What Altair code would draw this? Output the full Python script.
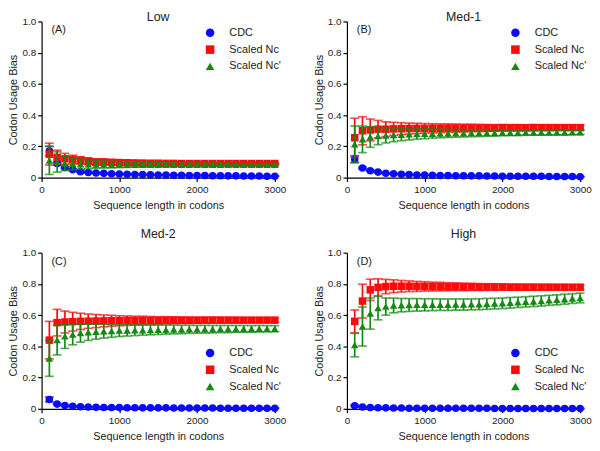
import altair as alt
import pandas as pd

lengths = [100, 200, 300, 400, 500, 600, 700, 800, 900, 1000,
           1100, 1200, 1300, 1400, 1500, 1600, 1700, 1800, 1900, 2000,
           2100, 2200, 2300, 2400, 2500, 2600, 2700, 2800, 2900, 3000]

series_names = ["CDC", "Scaled Nc", "Scaled Nc'"]
series_colors = ["#0a0aff", "#ff0a0a", "#138a13"]
series_shapes = ["circle", "square", "triangle-up"]

# ---- Panel A: Low ----
low_cdc = [0.17, 0.09, 0.065, 0.05, 0.038, 0.033, 0.03, 0.027, 0.025, 0.023, 0.021, 0.02, 0.019, 0.018, 0.017,
           0.016, 0.015, 0.015, 0.014, 0.013, 0.013, 0.012, 0.012, 0.011, 0.011, 0.010, 0.010, 0.010, 0.009, 0.009]
low_cdc_err = [0.03, 0.01, 0.006, 0.004, 0.003, 0.003, 0.002, 0.002, 0.002, 0.002, 0.002, 0.002, 0.001, 0.001, 0.001,
               0.001, 0.001, 0.001, 0.001, 0.001, 0.001, 0.001, 0.001, 0.001, 0.001, 0.001, 0.001, 0.001, 0.001, 0.001]
low_nc = [0.15, 0.13, 0.12, 0.115, 0.11, 0.105, 0.10, 0.10, 0.098, 0.096, 0.095, 0.094, 0.093, 0.092, 0.092,
          0.091, 0.091, 0.09, 0.09, 0.09, 0.09, 0.09, 0.09, 0.09, 0.09, 0.09, 0.09, 0.09, 0.09, 0.09]
low_nc_err = [0.07, 0.045, 0.035, 0.028, 0.024, 0.021, 0.019, 0.017, 0.016, 0.015, 0.014, 0.013, 0.012, 0.011, 0.01,
              0.009, 0.008, 0.008, 0.007, 0.007, 0.006, 0.006, 0.006, 0.005, 0.005, 0.005, 0.005, 0.004, 0.004, 0.004]
low_ncp = [0.11, 0.10, 0.09, 0.088, 0.086, 0.085, 0.084, 0.084, 0.083, 0.083, 0.083, 0.083, 0.083, 0.083, 0.083,
           0.083, 0.083, 0.083, 0.083, 0.083, 0.083, 0.083, 0.083, 0.083, 0.083, 0.083, 0.083, 0.083, 0.083, 0.083]
low_ncp_err = [0.09, 0.065, 0.045, 0.037, 0.032, 0.028, 0.025, 0.023, 0.021, 0.019, 0.018, 0.016, 0.015, 0.013, 0.012,
               0.011, 0.01, 0.009, 0.009, 0.008, 0.008, 0.007, 0.007, 0.007, 0.006, 0.006, 0.006, 0.006, 0.005, 0.005]

# ---- Panel B: Med-1 ----
med1_cdc = [0.118, 0.062, 0.044, 0.035, 0.028, 0.024, 0.021, 0.019, 0.017, 0.016, 0.015, 0.014, 0.013, 0.012, 0.012,
            0.011, 0.011, 0.010, 0.010, 0.009, 0.009, 0.009, 0.008, 0.008, 0.008, 0.007, 0.007, 0.007, 0.007, 0.006]
med1_cdc_err = [0.022, 0.006, 0.004, 0.003, 0.002, 0.002, 0.002, 0.002, 0.001, 0.001, 0.001, 0.001, 0.001, 0.001, 0.001,
                0.001, 0.001, 0.001, 0.001, 0.001, 0.001, 0.001, 0.001, 0.001, 0.001, 0.001, 0.001, 0.001, 0.001, 0.001]
med1_nc = [0.255, 0.30, 0.305, 0.31, 0.31, 0.312, 0.313, 0.314, 0.315, 0.315, 0.316, 0.316, 0.317, 0.317, 0.317,
           0.318, 0.318, 0.318, 0.318, 0.319, 0.319, 0.319, 0.319, 0.32, 0.32, 0.32, 0.32, 0.32, 0.32, 0.32]
med1_nc_err = [0.125, 0.09, 0.07, 0.056, 0.047, 0.042, 0.038, 0.035, 0.033, 0.031, 0.029, 0.028, 0.027, 0.026, 0.025,
               0.024, 0.023, 0.022, 0.021, 0.021, 0.02, 0.02, 0.019, 0.019, 0.018, 0.018, 0.017, 0.017, 0.017, 0.016]
med1_ncp = [0.213, 0.245, 0.26, 0.266, 0.27, 0.273, 0.275, 0.277, 0.279, 0.28, 0.281, 0.282, 0.283, 0.284, 0.284,
            0.285, 0.285, 0.286, 0.286, 0.287, 0.287, 0.287, 0.288, 0.288, 0.288, 0.289, 0.289, 0.289, 0.29, 0.29]
med1_ncp_err = [0.117, 0.085, 0.066, 0.055, 0.048, 0.043, 0.039, 0.036, 0.033, 0.031, 0.029, 0.027, 0.026, 0.025, 0.024,
                0.023, 0.022, 0.021, 0.02, 0.019, 0.018, 0.018, 0.017, 0.017, 0.016, 0.016, 0.015, 0.015, 0.015, 0.014]

# ---- Panel C: Med-2 ----
med2_cdc = [0.06, 0.03, 0.021, 0.016, 0.013, 0.011, 0.01, 0.009, 0.008, 0.008, 0.007, 0.007, 0.006, 0.006, 0.006,
            0.006, 0.005, 0.005, 0.005, 0.005, 0.005, 0.005, 0.004, 0.004, 0.004, 0.004, 0.004, 0.004, 0.004, 0.004]
med2_cdc_err = [0.015, 0.004, 0.003, 0.002, 0.002, 0.001, 0.001, 0.001, 0.001, 0.001, 0.001, 0.001, 0.001, 0.001, 0.001,
                0.001, 0.001, 0.001, 0.001, 0.001, 0.001, 0.001, 0.001, 0.001, 0.001, 0.001, 0.001, 0.001, 0.001, 0.001]
med2_nc = [0.44, 0.552, 0.556, 0.558, 0.56, 0.561, 0.562, 0.563, 0.564, 0.564, 0.565, 0.565, 0.566, 0.566, 0.566,
           0.567, 0.567, 0.567, 0.567, 0.567, 0.568, 0.568, 0.568, 0.568, 0.568, 0.568, 0.568, 0.568, 0.568, 0.568]
med2_nc_err = [0.12, 0.085, 0.07, 0.06, 0.052, 0.046, 0.042, 0.038, 0.035, 0.032, 0.03, 0.028, 0.027, 0.025, 0.024,
               0.023, 0.022, 0.021, 0.02, 0.019, 0.018, 0.018, 0.017, 0.016, 0.016, 0.015, 0.015, 0.014, 0.014, 0.013]
med2_ncp = [0.323, 0.44, 0.465, 0.476, 0.485, 0.49, 0.494, 0.497, 0.499, 0.501, 0.502, 0.503, 0.504, 0.505, 0.506,
            0.507, 0.508, 0.508, 0.509, 0.509, 0.51, 0.51, 0.511, 0.511, 0.512, 0.512, 0.512, 0.513, 0.513, 0.513]
med2_ncp_err = [0.115, 0.095, 0.078, 0.066, 0.058, 0.052, 0.048, 0.044, 0.041, 0.038, 0.036, 0.034, 0.032, 0.031, 0.03,
                0.029, 0.028, 0.027, 0.026, 0.025, 0.025, 0.024, 0.023, 0.023, 0.022, 0.022, 0.021, 0.021, 0.02, 0.02]

# ---- Panel D: High ----
high_cdc = [0.02, 0.012, 0.009, 0.007, 0.006, 0.005, 0.005, 0.004, 0.004, 0.004, 0.003, 0.003, 0.003, 0.003, 0.003,
            0.003, 0.003, 0.003, 0.002, 0.002, 0.002, 0.002, 0.002, 0.002, 0.002, 0.002, 0.002, 0.002, 0.002, 0.002]
high_cdc_err = [0.005, 0.002, 0.001, 0.001, 0.001, 0.001, 0.001, 0.001, 0.001, 0.001, 0.001, 0.001, 0.001, 0.001, 0.001,
                0.001, 0.001, 0.001, 0.001, 0.001, 0.001, 0.001, 0.001, 0.001, 0.001, 0.001, 0.001, 0.001, 0.001, 0.001]
high_nc = [0.56, 0.69, 0.762, 0.778, 0.783, 0.785, 0.785, 0.785, 0.784, 0.784, 0.783, 0.783, 0.782, 0.782, 0.781,
           0.781, 0.78, 0.78, 0.78, 0.78, 0.779, 0.779, 0.779, 0.779, 0.779, 0.779, 0.779, 0.779, 0.779, 0.779]
high_nc_err = [0.073, 0.108, 0.068, 0.055, 0.046, 0.041, 0.037, 0.034, 0.032, 0.03, 0.028, 0.027, 0.026, 0.025, 0.024,
               0.023, 0.022, 0.021, 0.021, 0.02, 0.019, 0.019, 0.018, 0.018, 0.017, 0.017, 0.016, 0.016, 0.015, 0.015]
high_ncp = [0.408, 0.527, 0.61, 0.645, 0.655, 0.662, 0.664, 0.665, 0.666, 0.666, 0.667, 0.667, 0.667, 0.668, 0.668,
            0.669, 0.670, 0.672, 0.674, 0.676, 0.679, 0.682, 0.685, 0.688, 0.691, 0.695, 0.698, 0.702, 0.706, 0.71]
high_ncp_err = [0.075, 0.125, 0.1, 0.075, 0.055, 0.047, 0.043, 0.041, 0.04, 0.039, 0.038, 0.037, 0.037, 0.036, 0.036,
                0.035, 0.035, 0.035, 0.034, 0.034, 0.034, 0.033, 0.033, 0.033, 0.033, 0.032, 0.032, 0.032, 0.031, 0.031]

panels = [
    ("Low", "(A)", (low_cdc, low_cdc_err), (low_nc, low_nc_err), (low_ncp, low_ncp_err), 6, -7),
    ("Med-1", "(B)", (med1_cdc, med1_cdc_err), (med1_nc, med1_nc_err), (med1_ncp, med1_ncp_err), 6, -7),
    ("Med-2", "(C)", (med2_cdc, med2_cdc_err), (med2_nc, med2_nc_err), (med2_ncp, med2_ncp_err), 96, 7),
    ("High", "(D)", (high_cdc, high_cdc_err), (high_nc, high_nc_err), (high_ncp, high_ncp_err), 96, 7),
]

FONT = "Liberation Sans"
W, H = 236, 158

XSCALE = alt.Scale(domain=[0, 3000], nice=False, zero=True, padding=0)
YSCALE = alt.Scale(domain=[0, 1], nice=False, zero=True, padding=0)
XAXIS = alt.Axis(values=[0, 1000, 2000, 3000], format="d", title="Sequence length in codons",
                 titlePadding=5, labelFlush=False, labelOverlap=False, labelPadding=3)
YAXIS = alt.Axis(values=[0, 0.2, 0.4, 0.6, 0.8, 1.0], title="Codon Usage Bias",
                 labelExpr="datum.value == 0 ? '0' : format(datum.value, '.1f')",
                 titlePadding=3, labelFlush=False, labelOverlap=False, labelPadding=2)


def X():
    return alt.X("len:Q", scale=XSCALE, axis=XAXIS)


def Y(field):
    return alt.Y(field, type="quantitative", scale=YSCALE, axis=YAXIS)


def make_panel(title, tag, cdc, nc, ncp, legy, toff):
    rows = []
    for name, (vals, errs) in zip(series_names, [cdc, nc, ncp]):
        for i, L in enumerate(lengths):
            rows.append({"len": L, "val": vals[i], "lo": vals[i] - errs[i],
                         "hi": vals[i] + errs[i], "series": name})
    df = pd.DataFrame(rows)
    legend = alt.Legend(title=None, orient="none", legendX=165, legendY=legy,
                        labelFontSize=11, labelFont=FONT, labelColor="#222",
                        symbolSize=75, rowPadding=5, labelOffset=14,
                        symbolStrokeWidth=0, padding=0)
    layers = []
    for name, col in zip(series_names, series_colors):
        base = alt.Chart(df).transform_filter(alt.datum.series == name)
        layers.append(base.mark_rule(color=col, strokeWidth=1.7).encode(
            x=X(), y=Y("lo"), y2="hi:Q"))
        layers.append(base.mark_tick(color=col, orient="horizontal", size=9, thickness=1.7).encode(
            x=X(), y=Y("lo")))
        layers.append(base.mark_tick(color=col, orient="horizontal", size=9, thickness=1.7).encode(
            x=X(), y=Y("hi")))
        layers.append(base.mark_point(filled=True, opacity=1, size=58).encode(
            x=X(),
            y=Y("val"),
            color=alt.Color("series:N", scale=alt.Scale(domain=series_names, range=series_colors),
                            legend=legend),
            shape=alt.Shape("series:N", scale=alt.Scale(domain=series_names, range=series_shapes),
                            legend=legend),
        ))
    tagdf = pd.DataFrame({"label": [tag]})
    tag_chart = alt.Chart(tagdf).mark_text(font=FONT, fontSize=11, color="#222", align="left",
                                           baseline="middle").encode(
        text="label:N", x=alt.value(10), y=alt.value(9))
    layers.append(tag_chart)
    return alt.layer(*layers).properties(
        width=W, height=H,
        title=alt.TitleParams(title, fontSize=12.5, fontWeight="normal", font=FONT, color="#222",
                              offset=toff, frame="group"),
    )


charts = [make_panel(*p) for p in panels]
row1 = alt.hconcat(charts[0], charts[1], spacing=27).resolve_scale(color="independent", shape="independent")
row2 = alt.hconcat(charts[2], charts[3], spacing=27).resolve_scale(color="independent", shape="independent")
chart = alt.vconcat(row1, row2, spacing=18).resolve_scale(
    color="independent", shape="independent"
).properties(padding=0).configure_axis(
    grid=False, domainColor="black", tickColor="black", labelColor="#222", titleColor="#222",
    labelFont=FONT, titleFont=FONT, labelFontSize=10, titleFontSize=11, titleFontWeight="normal",
    tickSize=4, domainWidth=1.2, tickWidth=1.2,
).configure_view(stroke=None)

chart.save("out.html", embed_options={"renderer": "svg", "actions": False})
